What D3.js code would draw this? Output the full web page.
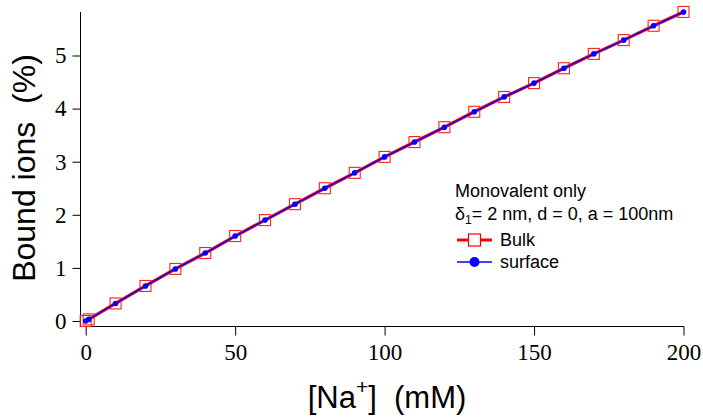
<!DOCTYPE html>
<html>
<head>
<meta charset="utf-8">
<script src="https://cdn.jsdelivr.net/npm/d3@7"></script>
<style>
  html, body { margin: 0; padding: 0; background: #fff; }
  svg { display: block; }
</style>
</head>
<body>
<svg id="chart" width="703" height="417"></svg>
<script>
// Sodium concentration (mM)
const naConc = [0, 1, 10, 20, 30, 40, 50, 60, 70, 80, 90, 100, 110, 120, 130, 140, 150, 160, 170, 180, 190, 200];
// Bound ions (%) computed with bulk concentrations
const bulkValues = [0, 0.03, 0.33, 0.66, 0.98, 1.28, 1.60, 1.90, 2.20, 2.50, 2.79, 3.09, 3.37, 3.65, 3.94, 4.22, 4.48, 4.76, 5.03, 5.29, 5.56, 5.82];
// Bound ions (%) computed with surface concentrations
const surfaceValues = [0, 0.03, 0.33, 0.66, 0.98, 1.28, 1.60, 1.90, 2.20, 2.50, 2.79, 3.09, 3.37, 3.65, 3.94, 4.22, 4.48, 4.76, 5.03, 5.29, 5.56, 5.82];
const xTicks = [0, 50, 100, 150, 200];
const yTicks = [0, 1, 2, 3, 4, 5];

const svg = d3.select("#chart");

const x = d3.scaleLinear().domain([0, 200]).range([85.7, 683.5]);
const y = d3.scaleLinear().domain([0, 5]).range([321, 55.5]);

const axisX = 80.5, axisY = 326.5;
const tickFont = "'Liberation Serif', 'DejaVu Serif', serif";
const sansFont = "'Liberation Sans', Arial, sans-serif";

// Axis lines (left and bottom frame)
svg.append("line").attr("x1", axisX).attr("x2", axisX)
  .attr("y1", y(5.82)).attr("y2", axisY + 0.5)
  .attr("stroke", "#000").attr("stroke-width", 1);
svg.append("line").attr("x1", axisX).attr("x2", x(200) + 0.5)
  .attr("y1", axisY).attr("y2", axisY)
  .attr("stroke", "#000").attr("stroke-width", 1);

// Y axis ticks and labels
const gy = svg.append("g").attr("transform", `translate(${axisX},0)`)
  .call(d3.axisLeft(y).tickValues(yTicks).tickSize(8).tickPadding(6).tickFormat(d3.format("d")));
gy.select(".domain").remove();
gy.selectAll("text").attr("font-family", tickFont).attr("font-size", 23).attr("fill", "#000");
gy.selectAll("line").attr("stroke", "#000");

// X axis ticks and labels
const gx = svg.append("g").attr("transform", `translate(0,${axisY})`)
  .call(d3.axisBottom(x).tickValues(xTicks).tickSize(9).tickPadding(8).tickFormat(d3.format("d")));
gx.select(".domain").remove();
gx.selectAll("text").attr("font-family", tickFont).attr("font-size", 23).attr("fill", "#000");
gx.selectAll("line").attr("stroke", "#000");

// Axis titles
svg.append("text")
  .attr("transform", `translate(35,168) rotate(-90)`)
  .attr("text-anchor", "middle")
  .attr("font-family", sansFont).attr("font-size", 32).attr("fill", "#000")
  .attr("xml:space", "preserve")
  .text("Bound ions  (%)");

const xt = svg.append("text")
  .attr("x", 387).attr("y", 408)
  .attr("text-anchor", "middle")
  .attr("font-family", sansFont).attr("font-size", 31).attr("fill", "#000")
  .attr("xml:space", "preserve");
xt.append("tspan").text("[Na");
xt.append("tspan").attr("dy", -14).attr("font-size", 21).text("+");
xt.append("tspan").attr("dy", 14).text("]  (mM)");

// Series
const bulk = naConc.map((c, i) => ({ c, v: bulkValues[i] }));
const surf = naConc.map((c, i) => ({ c, v: surfaceValues[i] }));
const line = d3.line().x(d => x(d.c)).y(d => y(d.v));

svg.append("path").datum(bulk).attr("d", line)
  .attr("fill", "none").attr("stroke", "#ff0000").attr("stroke-width", 3.2);
svg.append("g").selectAll("rect").data(bulk).join("rect")
  .attr("x", d => x(d.c) - 5.5).attr("y", d => y(d.v) - 5.5)
  .attr("width", 11).attr("height", 11)
  .attr("fill", "none").attr("stroke", "#ff2020").attr("stroke-width", 1.1);

svg.append("path").datum(surf).attr("d", line)
  .attr("fill", "none").attr("stroke", "#0000ff").attr("stroke-width", 1.4);
svg.append("g").selectAll("circle").data(surf).join("circle")
  .attr("cx", d => x(d.c)).attr("cy", d => y(d.v)).attr("r", 2.8)
  .attr("fill", "#0000ff");

// Legend
const lg = svg.append("g").attr("font-family", sansFont).attr("font-size", 18).attr("fill", "#000");
lg.append("text").attr("x", 455).attr("y", 197).text("Monovalent only");
const l2 = lg.append("text").attr("x", 455).attr("y", 220);
l2.append("tspan").text("δ");
l2.append("tspan").attr("dy", 4).attr("font-size", 12).text("1");
l2.append("tspan").attr("dy", -4).text("= 2 nm, d = 0, a = 100nm");

lg.append("line").attr("x1", 457).attr("x2", 492).attr("y1", 240).attr("y2", 240)
  .attr("stroke", "#ff0000").attr("stroke-width", 3.2);
lg.append("rect").attr("x", 468.5).attr("y", 234).attr("width", 12).attr("height", 12)
  .attr("fill", "#fff").attr("stroke", "#ff0000").attr("stroke-width", 1.2);
lg.append("text").attr("x", 500).attr("y", 246).text("Bulk");

lg.append("line").attr("x1", 457).attr("x2", 492).attr("y1", 262).attr("y2", 262)
  .attr("stroke", "#0000ff").attr("stroke-width", 1.4);
lg.append("circle").attr("cx", 474.5).attr("cy", 262).attr("r", 5).attr("fill", "#0000ff");
lg.append("text").attr("x", 500).attr("y", 268).text("surface");
</script>
</body>
</html>
